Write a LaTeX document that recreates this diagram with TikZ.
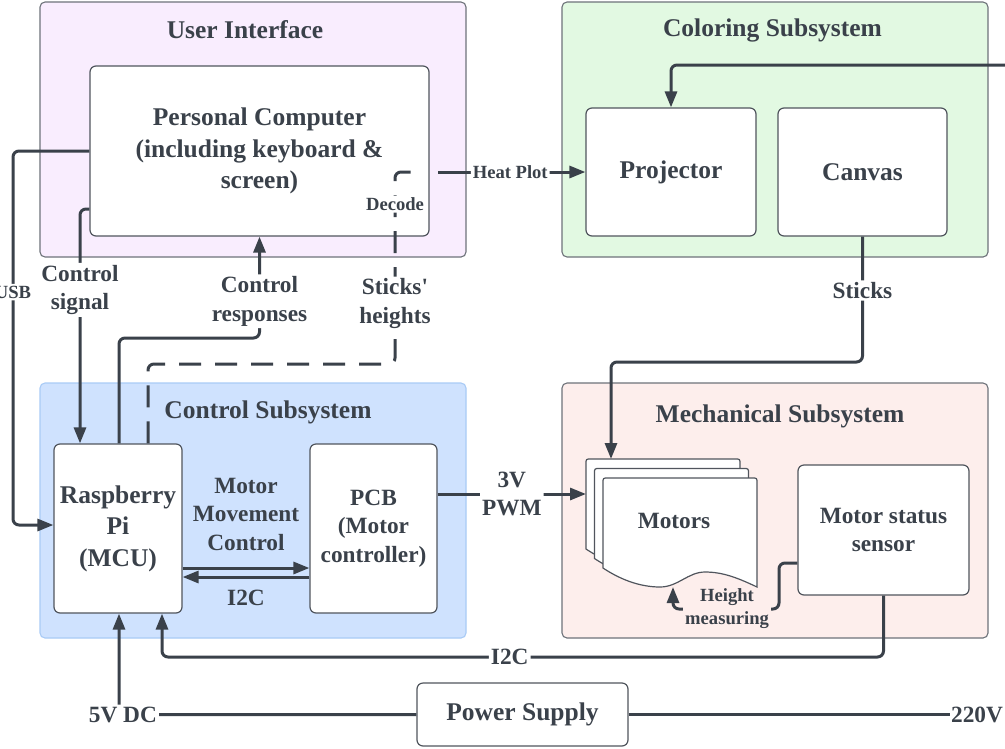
\documentclass[tikz,border=0pt]{standalone}
\usepackage{fontspec}
\setmainfont{Liberation Serif}
\usetikzlibrary{arrows.meta}
\definecolor{ink}{HTML}{3A414A}
\definecolor{boxedge}{HTML}{50555D}
\definecolor{contedge}{HTML}{6E737A}
\definecolor{uifill}{HTML}{F9EDFE}
\definecolor{colfill}{HTML}{E2F9E2}
\definecolor{ctlfill}{HTML}{CFE2FE}
\definecolor{ctledge}{HTML}{A9CBF6}
\definecolor{mechfill}{HTML}{FDEEEC}
\newcommand\fbig{\fontsize{25.5}{31.5}\selectfont\bfseries}
\newcommand\fmed{\fontsize{23.3}{28.5}\selectfont\bfseries}
\newcommand\fsml{\fontsize{18.6}{23}\selectfont\bfseries}
\begin{document}
\begin{tikzpicture}[x=1pt,y=-1pt,
  cont/.style={draw=contedge, line width=1.1pt, rounded corners=5pt, inner sep=0pt},
  ttl/.style={font=\fbig, text=ink, inner sep=0pt},
  box/.style={draw=boxedge, line width=1.2pt, fill=white, rounded corners=6pt, align=center, text=ink, inner sep=0pt},
  conn/.style={draw=ink, line width=3pt, rounded corners=6pt},
  arr/.style={conn, -{Triangle[length=16pt,width=12pt]}},
  dashpat/.style={dash pattern=on 22pt off 14pt},
  lbl/.style={font=\fmed, text=ink, fill=white, inner sep=2pt, align=center},
  slbl/.style={font=\fsml, text=ink, fill=white, inner sep=2pt, align=center},
  mdoc/.pic={\draw[draw=boxedge, line width=1.2pt, fill=white]
     (0,90) -- (0,5) .. controls (0,0) .. (5,0) -- (149,0) .. controls (154,0) .. (154,5)
     -- (154,109) .. controls (135,100) and (120,94) .. (102,94)
     .. controls (85,94) and (75,109) .. (57,109)
     .. controls (35,109) and (15,100) .. (0,90) -- cycle;}
]
\fill[white] (0,0) rectangle (1005,748);
\useasboundingbox (0,0) rectangle (1005,748);

% containers
\node[cont, fill=uifill, minimum width=426pt, minimum height=255pt] (ui) at (253,129.5) {};
\node[ttl] (uit) at (245,30) {User Interface};
\node[cont, fill=colfill, minimum width=426pt, minimum height=255pt] (col) at (775,129.5) {};
\node[ttl] (colt) at (772.5,30) {Coloring Subsystem};
\node[cont, fill=ctlfill, draw=ctledge, minimum width=426pt, minimum height=255pt] (ctl) at (253,510.5) {};
\node[ttl] (ctlt) at (268,412) {Control Subsystem};
\node[cont, fill=mechfill, minimum width=426pt, minimum height=255pt] (mech) at (775,510.5) {};
\node[ttl] (mecht) at (780,416) {Mechanical Subsystem};

% boxes
\node[box, font=\fbig, minimum width=339pt, minimum height=170pt] (pc) at (259.5,151) {Personal Computer\\(including keyboard \&\\screen)};
\node[box, font=\fbig, minimum width=170pt, minimum height=128pt] (proj) at (671,172) {Projector};
\node[box, font=\fbig, minimum width=169pt, minimum height=128pt] (canv) at (862.5,172) {Canvas};
\node[box, font=\fbig, minimum width=128pt, minimum height=169pt] (pi) at (118,528.5) {Raspberry\\Pi\\(MCU)};
\node[box, font=\fmed, minimum width=127pt, minimum height=169pt] (pcb) at (373.5,528.5) {PCB\\(Motor\\controller)};
\node[box, font=\fmed, minimum width=171pt, minimum height=130pt] (sens) at (883.5,530) {Motor status\\sensor};
\node[box, font=\fbig, minimum width=211pt, minimum height=63pt] (ps) at (522.5,714.5) {Power Supply};

% coordinates
\coordinate (dcA) at (419,172);
\coordinate (hpA) at (438,172);
\coordinate (inR) at (1005,65);
\coordinate (motTop) at (611,459);
\coordinate (motLeft) at (586,494);
\coordinate (motBot) at (673,587);

% height measuring (under the motor stack)
\draw[arr] ([yshift=-33pt]sens.west) -- (779,563) -- (779,609)
  -- node[slbl, fill=mechfill, pos=0.49] (lhm) {Height\\measuring} (673,609) -- (motBot);

% motors stack
\pic at (586,459) {mdoc};
\pic at (594.5,468.5) {mdoc};
\pic at (603,478) {mdoc};
\node[font=\fmed, text=ink] (mot) at (674,521) {Motors};

% connectors
\draw[arr] (pc.west) -- (13,151) -- node[slbl, pos=0.377] (lusb) {USB} (13,525) -- ([yshift=3.5pt]pi.west);
\draw[arr] ([yshift=-58pt]pc.west) -- (80,209) -- node[lbl, pos=0.345] (lcs) {Control\\signal} ([xshift=-38pt]pi.north);
\draw[arr] ([xshift=1pt]pi.north) -- (119,338) -- (259.5,338) -- node[lbl, pos=0.363] (lcr) {Control\\responses} (pc.south);
\draw[conn, dashpat] ([xshift=30pt]pi.north) -- (148,364) -- (395,364)
  -- node[lbl, pos=0.315] (lsh) {Sticks\textquotesingle\\heights} node[slbl, pos=0.833] (ldec) {Decode} (395,172) -- (dcA);
\draw[arr] (hpA) -- node[slbl, pos=0.49] (lhp) {Heat Plot} (proj.west);
\draw[arr] (inR) -- (671,65) -- (proj.north);
\draw[arr] (canv.south) -- node[lbl, pos=0.43] (lst) {Sticks} (862.5,362) -- (611,362) -- (motTop);
\draw[arr] ([yshift=34.5pt]pcb.east) -- node[lbl] (lpwm) {3V\\PWM} (motLeft);
\draw[arr] ([yshift=-39.5pt]pi.east) -- node[lbl, fill=none, yshift=54pt] (lmmc) {Motor\\Movement\\Control} ([yshift=-39.5pt]pcb.west);
\draw[arr] ([yshift=-48.5pt]pcb.west) -- node[lbl, fill=none, yshift=-21pt] (li2c) {I2C} ([yshift=-48.5pt]pi.east);
\draw[arr] (sens.south) -- (883.5,657) -- node[lbl, pos=0.518] (li2cb) {I2C} (162,657) -- ([xshift=44pt]pi.south);
\draw[arr] (ps.west) -- node[lbl, pos=0.987] (l5v) {5V DC} (119,714.5) -- ([xshift=1pt]pi.south);
\node[lbl, fill=none, inner sep=1pt] (l220) at (977,714.5) {220V};
\draw[conn] (ps.east) -- (l220.west);
\end{tikzpicture}
\end{document}
